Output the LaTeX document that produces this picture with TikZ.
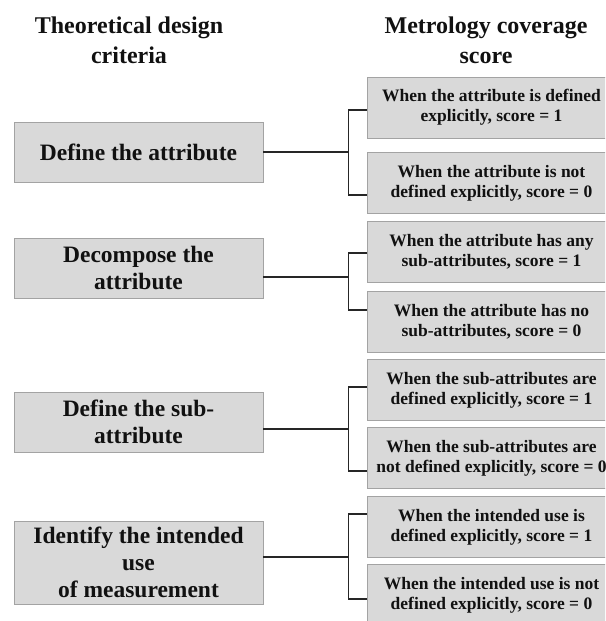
\documentclass[tikz,border=0pt]{standalone}
\usepackage{fontspec}
\setmainfont{Liberation Serif}
\begin{document}
\begin{tikzpicture}[x=1pt,y=-1pt,
  crit/.style={draw=boxedge, fill=boxfill, line width=0.9pt, inner sep=0pt,
    minimum width=249pt, minimum height=60pt, align=center, text=inktext,
    font=\fontsize{23.5}{27}\selectfont\bfseries},
  score/.style={draw=boxedge, fill=boxfill, line width=0.9pt, inner sep=0pt,
    minimum width=249pt, minimum height=61pt, align=center, text=inktext,
    font=\fontsize{17.5}{20}\selectfont\bfseries},
  head/.style={align=center, text=inktext, inner sep=0pt,
    font=\fontsize{24}{30}\selectfont\bfseries},
  link/.style={draw=linkcol, line width=1.5pt}]
\definecolor{boxfill}{HTML}{D9D9D9}
\definecolor{boxedge}{HTML}{A3A3A3}
\definecolor{linkcol}{HTML}{262626}
\definecolor{inktext}{HTML}{111111}
\useasboundingbox (0,0) rectangle (605,621);
\clip (0,0) rectangle (605,621);
\fill[white] (0,0) rectangle (605,621);

% column headings
\node[head] (hcrit) at (129,40) {Theoretical design\\criteria};
\node[head] (hscore) at (486,40) {Metrology coverage\\score};

% design criteria
\node[crit] (c1) at (138.5,152) {Define the attribute};
\node[crit] (c2) at (138.5,268) {Decompose the\\attribute};
\node[crit] (c3) at (138.5,422) {Define the sub-\\attribute};
\node[crit, minimum height=83pt] (c4) at (138.5,562.5) {Identify the intended\\use\\of measurement};

% coverage scores
\node[score] (s1) at (491.5,107.5) {When the attribute is defined\\explicitly, score = 1};
\node[score] (s2) at (491.5,183) {When the attribute is not\\defined explicitly, score = 0};
\node[score] (s3) at (491.5,251.5) {When the attribute has any\\sub-attributes, score = 1};
\node[score] (s4) at (491.5,321.5) {When the attribute has no\\sub-attributes, score = 0};
\node[score] (s5) at (491.5,390) {When the sub-attributes are\\defined explicitly, score = 1};
\node[score] (s6) at (491.5,458) {When the sub-attributes are\\not defined explicitly, score = 0};
\node[score] (s7) at (491.5,527) {When the intended use is\\defined explicitly, score = 1};
\node[score] (s8) at (491.5,595) {When the intended use is not\\defined explicitly, score = 0};

% bracket connectors
\coordinate (j1) at (348.5,152);
\coordinate (j2) at (348.5,277);
\coordinate (j3) at (348.5,429);
\coordinate (j4) at (348.5,557);

\draw[link] (c1.east |- j1) -- (j1);
\draw[link] (s1.west |- 0,110) -| (j1) |- (s2.west |- 0,195);
\draw[link] (c2.east |- j2) -- (j2);
\draw[link] (s3.west |- 0,253) -| (j2) |- (s4.west |- 0,310);
\draw[link] (c3.east |- j3) -- (j3);
\draw[link] (s5.west |- 0,387) -| (j3) |- (s6.west |- 0,471);
\draw[link] (c4.east |- j4) -- (j4);
\draw[link] (s7.west |- 0,514) -| (j4) |- (s8.west |- 0,599);
\end{tikzpicture}
\end{document}
